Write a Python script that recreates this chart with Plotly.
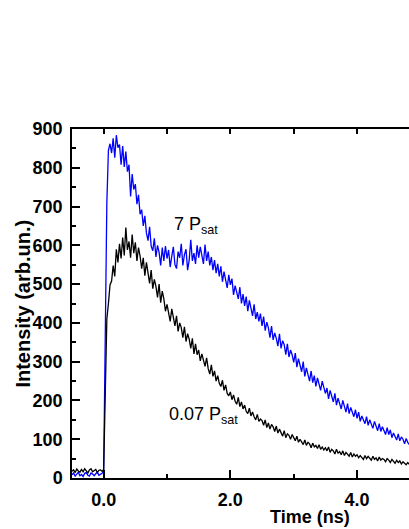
import plotly.graph_objects as go

# sampling grid of the traces (ns)
T_START = -0.5
T_STEP = 0.025

# 7 P_sat trace (blue), one value per 25 ps
blue_7psat = [
    8, 13, 5, 10, 15, 6, 9, 4, 12, 14, 7, 5, 13, 10, 6, 11, 15, 7, 9, 12,
    18, 330, 710, 845, 862, 838, 876, 826, 884, 852, 860, 808, 856, 802, 842, 790, 808, 726, 784, 744,
    758, 706, 730, 680, 692, 650, 676, 632, 612, 648, 598, 586, 618, 570, 600, 582, 548, 594, 560, 598,
    566, 588, 544, 572, 596, 550, 540, 584, 568, 604, 548, 576, 590, 536, 562, 614, 560, 580, 552, 600,
    568, 596, 574, 552, 602, 560, 584, 548, 570, 536, 562, 528, 552, 520, 546, 506, 532, 512, 490, 524,
    498, 514, 472, 496, 480, 462, 492, 450, 474, 444, 468, 430, 458, 440, 418, 448, 410, 428, 404, 424,
    392, 416, 380, 402, 388, 362, 392, 356, 374, 360, 340, 372, 334, 354, 344, 318, 346, 312, 330, 318,
    298, 322, 286, 308, 292, 274, 300, 262, 284, 270, 250, 276, 246, 264, 236, 258, 242, 226, 250, 232,
    218, 232, 204, 226, 210, 196, 218, 188, 206, 194, 178, 200, 184, 170, 192, 166, 182, 172, 158, 176,
    154, 170, 146, 160, 150, 140, 158, 136, 150, 138, 128, 146, 132, 122, 140, 120, 132, 124, 112, 130,
    112, 124, 104, 116, 108, 98, 114, 96, 106, 100, 88, 102, 92, 86,
]

# 0.07 P_sat trace (black)
black_007psat = [
    17, 21, 14, 23, 18, 15, 22, 16, 24, 19, 13, 21, 24, 16, 18, 22, 14, 20, 21, 17,
    22, 220, 410, 450, 498, 508, 548, 520, 590, 556, 604, 566, 620, 574, 646, 588, 610, 568, 628, 580,
    608, 560, 594, 572, 540, 568, 522, 556, 530, 502, 536, 488, 512, 494, 466, 500, 452, 482, 462, 430,
    448, 426, 404, 436, 412, 392, 418, 378, 400, 388, 362, 390, 352, 372, 358, 334, 360, 320, 346, 318,
    330, 302, 320, 306, 288, 310, 282, 268, 292, 262, 276, 250, 264, 244, 236, 252, 226, 240, 218, 212,
    222, 202, 214, 198, 190, 208, 184, 196, 178, 188, 172, 166, 180, 160, 170, 158, 150, 164, 146, 152,
    148, 136, 150, 130, 142, 126, 138, 132, 120, 134, 116, 126, 118, 108, 122, 104, 114, 110, 100, 112,
    104, 96, 108, 92, 100, 94, 86, 98, 84, 92, 88, 78, 90, 80, 84, 76, 86, 74, 80, 72,
    78, 70, 80, 66, 74, 70, 62, 74, 64, 68, 60, 70, 58, 66, 62, 56, 66, 54, 62, 56,
    60, 52, 58, 54, 48, 58, 50, 56, 52, 46, 56, 48, 52, 44, 54, 46, 50, 48, 42, 50,
    46, 40, 48, 42, 38, 46, 40, 44, 36, 42, 38, 34, 40, 35,
]

times = [round(T_START + T_STEP * i, 3) for i in range(len(blue_7psat))]

x_ticks = [0, 2, 4]
x_tick_labels = ["0.0", "2.0", "4.0"]
X_RANGE = [-0.5, 4.82]

FONT = "Arial, Liberation Sans, sans-serif"

fig = go.Figure()
fig.add_trace(
    go.Scatter(x=times, y=blue_7psat, mode="lines", line=dict(color="#0000ff", width=1.3))
)
# black trace sits on the top axis (same range) so the top tick axis is drawn
fig.add_trace(
    go.Scatter(
        x=times, y=black_007psat, mode="lines", xaxis="x2",
        line=dict(color="black", width=1.3),
    )
)

fig.update_layout(
    width=409,
    height=529,
    margin=dict(l=72, r=0, t=129, b=51, autoexpand=False),
    plot_bgcolor="white",
    paper_bgcolor="white",
    showlegend=False,
    font=dict(family=FONT, color="black"),
    xaxis=dict(
        range=X_RANGE,
        automargin=False,
        tickvals=x_ticks,
        ticktext=x_tick_labels,
        ticks="inside",
        ticklen=8,
        tickwidth=1.5,
        tickcolor="black",
        minor=dict(tickvals=[1, 3], ticks="inside", ticklen=4, tickwidth=1.5, tickcolor="black"),
        showline=True,
        linewidth=1.5,
        linecolor="black",
        showgrid=False,
        zeroline=False,
        tickfont=dict(size=18, weight="bold"),
        ticklabelstandoff=5,
    ),
    xaxis2=dict(
        range=X_RANGE,
        automargin=False,
        overlaying="x",
        side="top",
        anchor="y",
        tick0=0,
        dtick=1,
        ticks="inside",
        ticklen=5,
        tickwidth=1.5,
        tickcolor="black",
        showticklabels=False,
        showline=True,
        linewidth=1.5,
        linecolor="black",
        showgrid=False,
        zeroline=False,
    ),
    yaxis=dict(
        range=[0, 900],
        automargin=False,
        tick0=0,
        dtick=100,
        ticks="inside",
        ticklen=8,
        tickwidth=1.5,
        tickcolor="black",
        minor=dict(dtick=50, ticks="inside", ticklen=4, tickwidth=1.5, tickcolor="black"),
        showline=True,
        linewidth=1.5,
        linecolor="black",
        showgrid=False,
        zeroline=False,
        tickfont=dict(size=18, weight="bold"),
        ticklabelstandoff=4,
    ),
)

fig.add_annotation(
    x=1.074, y=652, xref="x", yref="y", text="7 P<sub>sat</sub>",
    showarrow=False, xanchor="left", yanchor="middle", font=dict(size=18),
)
fig.add_annotation(
    x=0.995, y=162, xref="x", yref="y", text="0.07 P<sub>sat</sub>",
    showarrow=False, xanchor="left", yanchor="middle", font=dict(size=18),
)
fig.add_annotation(
    x=0.705, y=-0.112, xref="paper", yref="paper", text="Time (ns)",
    showarrow=False, xanchor="center", yanchor="middle",
    font=dict(size=18, weight="bold"),
)
fig.add_annotation(
    x=-0.148, y=0.5, xref="paper", yref="paper", text="Intensity (arb.un.)",
    textangle=-90, showarrow=False, xanchor="center", yanchor="middle",
    font=dict(size=20, weight="bold"),
)

# the page body has a default 8px margin; drop it so the figure sits at the corner
fig.write_html(
    "out.html",
    config={"displayModeBar": False},
    post_script="document.body.style.margin = '0px';",
)
